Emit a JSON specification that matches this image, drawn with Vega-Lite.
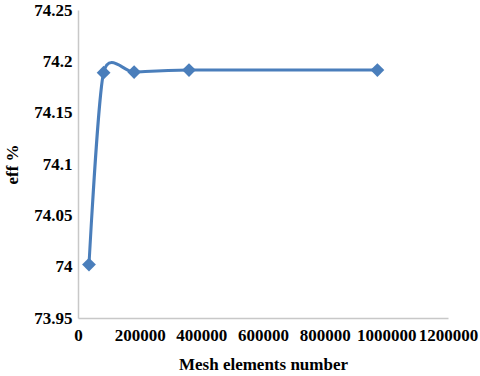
{
  "$schema": "https://vega.github.io/schema/vega-lite/v6.json",
  "autosize": "none",
  "padding": {"left": 78, "top": 10, "right": 32, "bottom": 58},
  "width": 370,
  "height": 308,
  "background": "white",
  "data": {"values": [
    {"mesh": 35600, "eff": 74.002},
    {"mesh": 83000, "eff": 74.189},
    {"mesh": 182000, "eff": 74.1895},
    {"mesh": 360000, "eff": 74.1915},
    {"mesh": 971000, "eff": 74.1915}
  ]},
  "config": {
    "view": {"stroke": null},
    "axis": {
      "labelFont": "Times New Roman, Liberation Serif, DejaVu Serif, serif", "labelFontWeight": "bold", "labelFontSize": 17, "labelColor": "black",
      "titleFont": "Times New Roman, Liberation Serif, DejaVu Serif, serif", "titleFontWeight": "bold", "titleFontSize": 17, "titleColor": "black",
      "grid": false, "ticks": false, "domainColor": "#c8c8c8", "domainWidth": 1.5
    }
  },
  "encoding": {
    "x": {"field": "mesh", "type": "quantitative",
      "scale": {"domain": [0, 1200000], "nice": false},
      "axis": {"values": [0, 200000, 400000, 600000, 800000, 1000000, 1200000], "format": "d", "labelPadding": 9, "title": "Mesh elements number", "titlePadding": 13, "labelFlush": false, "labelOverlap": false}},
    "y": {"field": "eff", "type": "quantitative",
      "scale": {"domain": [73.95, 74.25], "nice": false, "zero": false},
      "axis": {"values": [73.95, 74, 74.05, 74.1, 74.15, 74.2, 74.25], "format": "~r", "labelPadding": 6, "title": "eff %", "titlePadding": 12, "labelFlush": false}}
  },
  "layer": [
    {"mark": {"type": "line", "interpolate": "cardinal", "tension": 0.3, "color": "#4a7ebb", "strokeWidth": 3}},
    {"mark": {"type": "point", "shape": "diamond", "filled": true, "size": 190, "color": "#4a7ebb", "opacity": 1}}
  ]
}
